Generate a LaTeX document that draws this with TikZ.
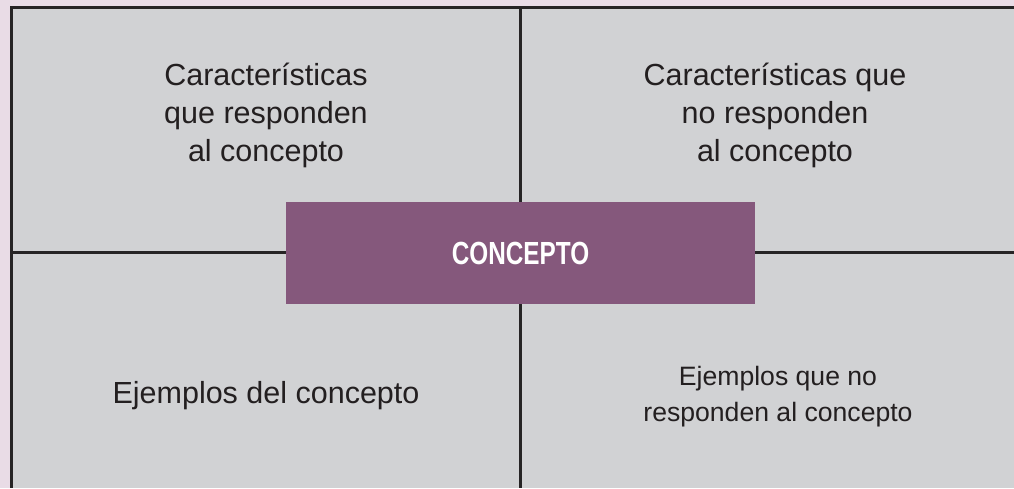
\documentclass[tikz,border=0pt]{standalone}
\usepackage{fontspec}
\setmainfont{Liberation Sans}
\usepackage{graphicx}
\definecolor{bgpink}{HTML}{E9DCE6}
\definecolor{cellgray}{HTML}{D1D2D4}
\definecolor{conceptpurple}{HTML}{85587C}
\definecolor{gridcol}{HTML}{262425}
\definecolor{textcol}{HTML}{231F20}
\tikzset{
  gridline/.style={draw=gridcol, line width=3pt},
  conceptbox/.style={fill=conceptpurple, minimum width=469pt, minimum height=102pt, inner sep=0pt, text=white},
  celltext/.style={anchor=base, align=center, inner sep=0pt, text=textcol, font=\fontsize{30.5}{38}\selectfont},
  celltextsmall/.style={anchor=base, align=center, inner sep=0pt, text=textcol, font=\fontsize{26.6}{35.5}\selectfont}
}
\begin{document}
\begin{tikzpicture}[x=1pt,y=-1pt]
\useasboundingbox (0,0) rectangle (1014,488);
\fill[bgpink] (0,0) rectangle (1014,488);
\fill[cellgray] (11.5,7.5) rectangle (1014,488);
\coordinate (tl) at (11.5,7.5);
\coordinate (tr) at (1014,7.5);
\coordinate (bl) at (11.5,488);
\coordinate (mt) at (520.5,7.5);
\coordinate (mb) at (520.5,488);
\coordinate (ml) at (11.5,252.5);
\coordinate (mr) at (1014,252.5);
\draw[gridline] (tr) -- (tl) -- (bl);
\draw[gridline] (mt) -- (mb);
\draw[gridline] (ml) -- (mr);
\node[conceptbox] (concept) at (520.5,253) {\raisebox{-2.5pt}{\scalebox{0.76}[1]{\bfseries\fontsize{32}{32}\selectfont CONCEPTO}}};
\node[celltext] (q1) at (266,161) {Características\\que responden\\al concepto};
\node[celltext] (q2) at (775,161) {Características que\\no responden\\al concepto};
\node[celltext] (q3) at (266,403) {Ejemplos del concepto};
\node[celltextsmall] (q4) at (778,421) {Ejemplos que no\\responden al concepto};
\end{tikzpicture}
\end{document}
